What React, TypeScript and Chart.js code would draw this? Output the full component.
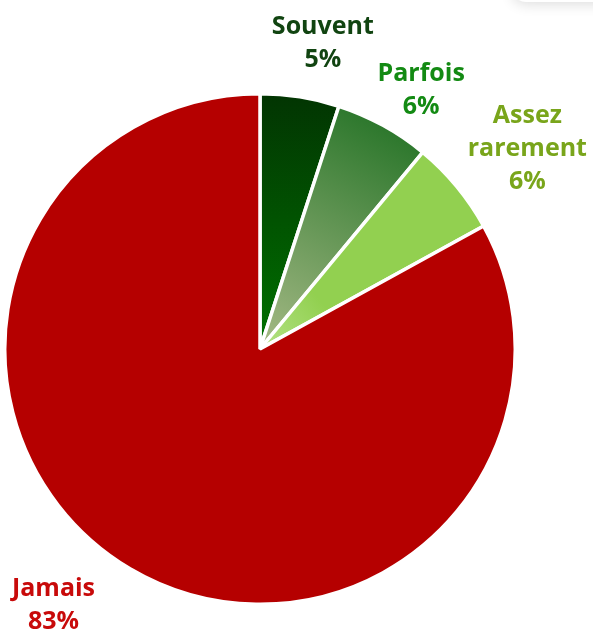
import React, { useEffect, useRef } from "react";
import { Chart, registerables } from "chart.js";

Chart.register(...registerables);

const categories = ["Souvent", "Parfois", "Assez rarement", "Jamais"];
const values = [5, 6, 6, 83];
const labelLines = [["Souvent", "5%"], ["Parfois", "6%"], ["Assez", "rarement", "6%"], ["Jamais", "83%"]];
const labelColors = ["#114411", "#138a13", "#79a51b", "#c80a0a"];
const gradientStops = [
  ["#023402", "#007200"],
  ["#2c772c", "#a6ba86"],
  ["#92d050", "#b4e286"],
  ["#b50000", "#b50000"],
];
// label placement: radial factor and angular shift (deg) relative to slice mid-angle
const labelRadial = [1.235, 1.205, 1.315, 1.28];
const labelShift = [2.5, 2.8, 2.4, 8.6];

const FONT = "bold 25px 'Open Sans', 'DejaVu Sans', sans-serif";
const LINE_H = 33;
const BASELINE_FIX = 3;

const labelPlugin = {
  id: "outerLabels",
  beforeDraw(chart: any) {
    const ctx = chart.ctx;
    ctx.save();
    ctx.fillStyle = "#ffffff";
    ctx.shadowColor = "rgba(0,0,0,0.14)";
    ctx.shadowBlur = 14;
    ctx.shadowOffsetY = 2;
    ctx.beginPath();
    ctx.roundRect(512, -40, 200, 42, 14);
    ctx.fill();
    ctx.restore();
    ctx.save();
    ctx.fillStyle = "#ffffff";
    ctx.fillRect(500, -40, 200, 40);
    ctx.restore();
  },
  afterDraw(chart: any) {
    const ctx = chart.ctx;
    const meta = chart.getDatasetMeta(0);
    ctx.save();
    ctx.font = FONT;
    ctx.textAlign = "center";
    ctx.textBaseline = "middle";
    meta.data.forEach((arc: any, i: number) => {
      const { x, y, startAngle, endAngle, outerRadius } = arc.getProps(
        ["x", "y", "startAngle", "endAngle", "outerRadius"],
        true
      );
      const mid = (startAngle + endAngle) / 2 + (labelShift[i] * Math.PI) / 180;
      const r = outerRadius * labelRadial[i];
      const cx = x + Math.cos(mid) * r;
      const cy = y + Math.sin(mid) * r + BASELINE_FIX;
      const lines = labelLines[i];
      ctx.fillStyle = labelColors[i];
      const top = cy - ((lines.length - 1) * LINE_H) / 2;
      lines.forEach((t, j) => ctx.fillText(t, cx, top + j * LINE_H));
    });
    ctx.restore();
  },
};

export default function App() {
  const ref = useRef<HTMLCanvasElement>(null);
  useEffect(() => {
    const canvas = ref.current!;
    const chart = new Chart(canvas, {
      type: "pie",
      data: {
        labels: categories,
        datasets: [
          {
            data: values,
            borderColor: "#ffffff",
            borderWidth: 3.5,
            backgroundColor: (c: any) => {
              const chartObj = c.chart;
              const area = chartObj.chartArea;
              const i = c.dataIndex;
              if (!area) return gradientStops[i][0];
              const ctx = chartObj.ctx;
              const cx = (area.left + area.right) / 2;
              const cy = (area.top + area.bottom) / 2;
              const R = Math.min(area.width, area.height) / 2;
              const total = values.reduce((a, b) => a + b, 0);
              let before = 0;
              for (let k = 0; k < i; k++) before += values[k];
              const midFrac = (before + values[i] / 2) / total;
              const ang = -Math.PI / 2 + midFrac * Math.PI * 2;
              let g;
              if (i === 0) {
                g = ctx.createLinearGradient(cx, cy - R, cx, cy);
              } else {
                g = ctx.createLinearGradient(
                  cx + Math.cos(ang) * R,
                  cy + Math.sin(ang) * R,
                  cx,
                  cy
                );
              }
              g.addColorStop(0, gradientStops[i][0]);
              g.addColorStop(i === 2 ? 0.7 : 0, gradientStops[i][0]);
              g.addColorStop(1, gradientStops[i][1]);
              return g;
            },
          },
        ],
      },
      options: {
        responsive: false,
        animation: false,
        layout: { padding: { left: 3, right: 76, top: 92, bottom: 23 } },
        plugins: {
          legend: { display: false },
          tooltip: { enabled: false },
        },
      },
      plugins: [labelPlugin],
    });
    return () => chart.destroy();
  }, []);
  return (
    <div style={{ position: "fixed", left: 0, top: 0, width: 593, height: 629, background: "#fff" }}>
      <canvas ref={ref} width={593} height={629} style={{ display: "block" }} />
    </div>
  );
}
